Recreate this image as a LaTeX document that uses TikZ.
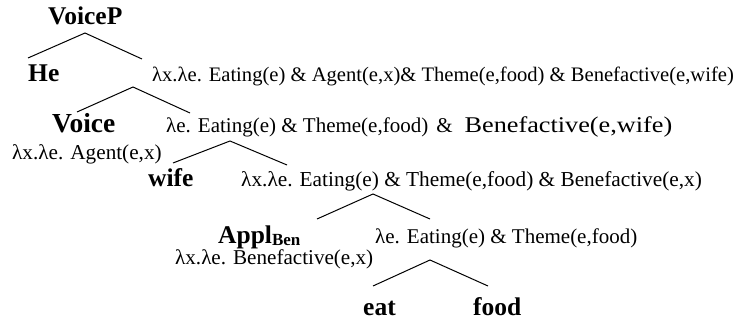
\documentclass[tikz,border=0pt]{standalone}
\usepackage{fontspec}
\setmainfont{Liberation Serif}
\usepackage{tikz}

\tikzset{
    cat/.style={anchor=base west, inner sep=0pt, font=\bfseries\fontsize{25.5}{30}\selectfont},
    sem/.style={anchor=base west, inner sep=0pt, font=\fontsize{#1}{24}\selectfont},
    sem/.default=21,
    branch/.style={line width=1pt}
}
\newcommand{\subben}{\raisebox{-0.12ex}{\fontsize{17}{20}\selectfont Ben}}

\begin{document}
\begin{tikzpicture}[x=1pt, y=-1pt]
    \useasboundingbox (0,0) rectangle (742,320);

    % labels
    \node[cat] (voicep) at (48,25) {VoiceP};
    \node[cat] (he) at (28,82) {He};
    \node[sem=20.6] (lamA) at (152,82) {λx.λe. Eating(e) \& Agent(e,x)\& Theme(e,food) \& Benefactive(e,wife)};
    \node[cat, font=\bfseries\fontsize{27.5}{30}\selectfont] (voice) at (52,133) {Voice};
    \node[sem] (lamB) at (166,133) {λe. Eating(e) \& Theme(e,food)\hspace{8pt}\&\hspace{12pt}\scalebox{1.25}[1.07]{Benefactive(e,wife)}};
    \node[sem=21.2] (agent) at (12,160) {λx.λe. Agent(e,x)};
    \node[cat] (wife) at (148,187) {wife};
    \node[sem=21.3] (lamC) at (241,187) {λx.λe. Eating(e) \& Theme(e,food) \& Benefactive(e,x)};
    \node[cat] (appl) at (218,244) {Appl\subben};
    \node[sem] (lamD) at (375,244) {λe. Eating(e) \& Theme(e,food)};
    \node[sem=21.1] (benef) at (175,265) {λx.λe. Benefactive(e,x)};
    \node[cat] (eat) at (363,316) {eat};
    \node[cat] (food) at (473,316) {food};

    % branch points
    \coordinate (topA) at (85,33);   \coordinate (leftA) at (28,58);   \coordinate (rightA) at (142,59);
    \coordinate (topB) at (133,87);  \coordinate (leftB) at (77,112);  \coordinate (rightB) at (190,113);
    \coordinate (topC) at (230,141); \coordinate (leftC) at (173,163); \coordinate (rightC) at (287,165);
    \coordinate (topD) at (373,194); \coordinate (leftD) at (317,219); \coordinate (rightD) at (430,219);
    \coordinate (topE) at (430,260); \coordinate (leftE) at (373,286); \coordinate (rightE) at (488,286);

    \draw[branch] (leftA) -- (topA) -- (rightA);
    \draw[branch] (leftB) -- (topB) -- (rightB);
    \draw[branch] (leftC) -- (topC) -- (rightC);
    \draw[branch] (leftD) -- (topD) -- (rightD);
    \draw[branch] (leftE) -- (topE) -- (rightE);
\end{tikzpicture}
\end{document}
